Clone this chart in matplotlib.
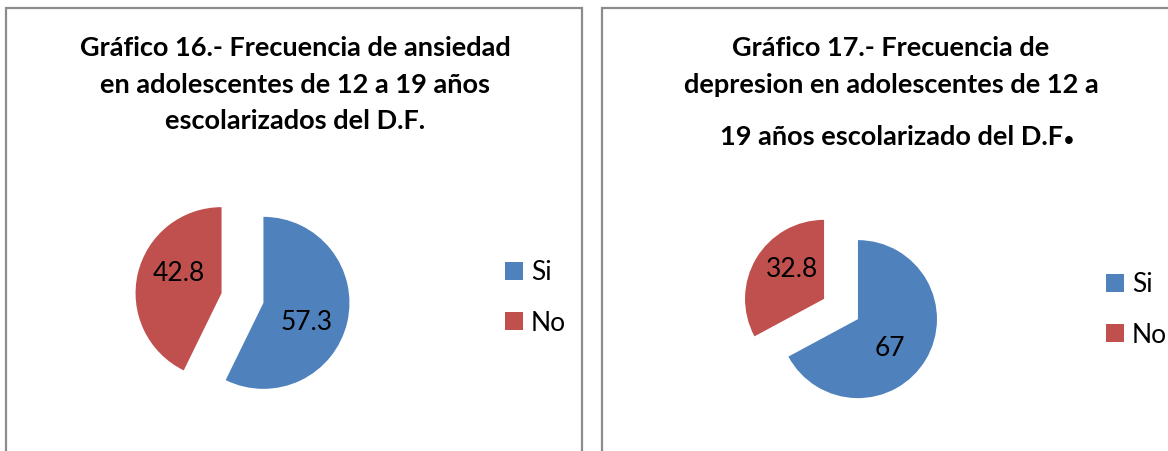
import numpy as np
import matplotlib
matplotlib.use("Agg")
import matplotlib.pyplot as plt
from matplotlib.patches import Rectangle

plt.rcParams['font.family'] = ['Lato', 'DejaVu Sans']

# datos de los dos graficos
categorias = ["Si", "No"]
ansiedad = [57.3, 42.8]
depresion = [67, 32.8]
etiquetas_ansiedad = ["57.3", "42.8"]
etiquetas_depresion = ["67", "32.8"]
titulo_16 = ["Gráfico 16.- Frecuencia de ansiedad",
             "en adolescentes de 12 a 19 años",
             "escolarizados del D.F."]
titulo_17 = ["Gráfico 17.- Frecuencia de",
             "depresion en adolescentes de 12 a",
             "19 años escolarizado del D.F"]
colores = ["#4F81BD", "#C0504D"]

W, H = 1168, 451
fig = plt.figure(figsize=(W / 100, H / 100), dpi=100)


def fx(x):
    return x / W


def fy(y):
    # y en pixeles desde arriba -> fraccion de figura
    return 1 - y / H


def pastel(cx, cy, r, valores, etiquetas, leg_x, leg_y):
    S = 135
    ax = fig.add_axes([fx(cx - S), fy(cy + S), 2 * S / W, 2 * S / H])
    lim = S / r
    wedges, _ = ax.pie(valores, colors=colores, startangle=90, counterclock=False,
                       explode=[0.25, 0.25], wedgeprops=dict(linewidth=0))
    ax.set_xlim(-lim, lim); ax.set_ylim(-lim, lim)
    ax.set_aspect("equal")
    ax.axis("off")
    for w, txt in zip(wedges, etiquetas):
        ang = np.deg2rad((w.theta1 + w.theta2) / 2 - 12)
        x0, y0 = w.center
        ax.text(x0 + 0.55 * np.cos(ang), y0 + 0.55 * np.sin(ang), txt,
                ha="center", va="center", fontsize=19, color="black")
    ax.legend(wedges, categorias, loc="center left", frameon=False,
              bbox_to_anchor=(fx(leg_x), fy(leg_y)), bbox_transform=fig.transFigure,
              fontsize=19, handlelength=0.68, handleheight=0.68, handletextpad=0.3,
              labelspacing=0.95, borderpad=0)
    return ax


# marcos de los graficos
for x0, x1 in [(6, 582), (602, 1180)]:
    fig.patches.append(Rectangle((fx(x0), fy(470)), fx(x1) - fx(x0), fy(8) - fy(470),
                                 transform=fig.transFigure, fill=False,
                                 edgecolor="#8c8c8c", linewidth=1.6))

pastel(242.5, 298, 86, ansiedad, etiquetas_ansiedad, 492, 298)
pastel(841, 309, 79, depresion, etiquetas_depresion, 1093, 310)

for linea, y in zip(titulo_16, [48, 85, 121]):
    fig.text(fx(295), fy(y), linea, ha="center", va="center",
             fontsize=19.5, fontweight="bold")
for linea, y in zip(titulo_17[:2], [48, 85]):
    fig.text(fx(891), fy(y), linea, ha="center", va="center",
             fontsize=19.5, fontweight="bold")
t3 = fig.text(fx(891), fy(137), titulo_17[2], ha="center", va="center",
              fontsize=19.5, fontweight="bold")
# punto grande al final, sobre la linea base del texto
plt.annotate(".", xy=(1, 0.2), xycoords=t3, ha="left", va="baseline",
             fontsize=36, fontweight="bold", annotation_clip=False)

fig.savefig("out.png", dpi=100)
